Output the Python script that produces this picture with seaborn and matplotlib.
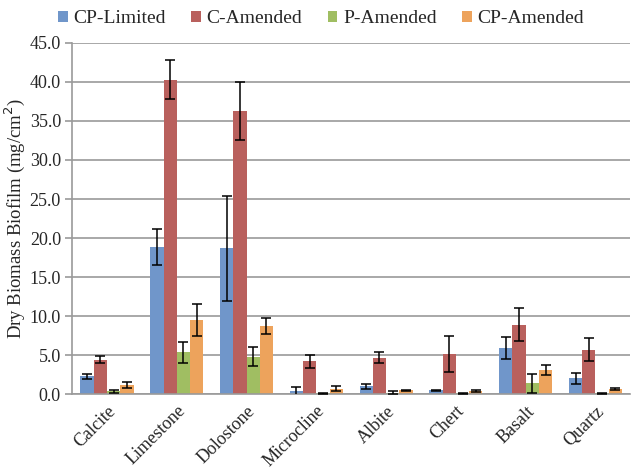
import numpy as np
import matplotlib.pyplot as plt
import pandas as pd
import seaborn as sns

minerals = ['Calcite', 'Limestone', 'Dolostone', 'Microcline', 'Albite', 'Chert', 'Basalt', 'Quartz']
treatments = ['CP-Limited', 'C-Amended', 'P-Amended', 'CP-Amended']

cp_limited = [2.3, 18.9, 18.7, 0.35, 1.0, 0.5, 5.9, 2.05]
c_amended = [4.4, 40.3, 36.3, 4.2, 4.7, 5.1, 8.9, 5.7]
p_amended = [0.4, 5.4, 4.8, 0.1, 0.2, 0.1, 1.4, 0.1]
cp_amended = [1.2, 9.5, 8.7, 0.7, 0.5, 0.4, 3.1, 0.65]

cp_limited_err = [0.35, 2.3, 6.75, 0.6, 0.3, 0.1, 1.45, 0.7]
c_amended_err = [0.45, 2.45, 3.7, 0.8, 0.75, 2.3, 2.1, 1.5]
p_amended_err = [0.2, 1.35, 1.2, 0.05, 0.15, 0.05, 1.2, 0.05]
cp_amended_err = [0.37, 2.05, 1.0, 0.3, 0.1, 0.15, 0.6, 0.1]

colors = ['#7096CA', '#B9605D', '#A0BE62', '#EDA35C']

values = [cp_limited, c_amended, p_amended, cp_amended]
errors = [cp_limited_err, c_amended_err, p_amended_err, cp_amended_err]

df = pd.DataFrame({
    'mineral': np.tile(minerals, 4),
    'treatment': np.repeat(treatments, len(minerals)),
    'biomass': np.concatenate(values),
    'err': np.concatenate(errors),
})

sns.set_style('white')
plt.rcParams['font.family'] = ['Liberation Serif', 'DejaVu Serif']

fig = plt.figure(figsize=(6.38, 4.71), dpi=100)
ax = fig.add_axes([0.113, 0.163, 0.875, 0.746])

sns.barplot(data=df, x='mineral', y='biomass', hue='treatment', order=minerals,
            hue_order=treatments, palette=colors, width=0.76, saturation=1,
            errorbar=None, linewidth=0, ax=ax)

# error bars from the bar positions
for container, t in zip(ax.containers, treatments):
    sub = df[df['treatment'] == t].set_index('mineral').loc[minerals]
    xs = [b.get_x() + b.get_width() / 2 for b in container]
    ax.errorbar(xs, sub['biomass'], yerr=sub['err'], fmt='none', ecolor='black',
                elinewidth=1.1, capsize=3.5, capthick=1.1, zorder=5)

ax.set_ylim(0, 45)
ax.set_yticks(np.arange(0, 46, 5))
ax.set_yticklabels([f'{v:.1f}' for v in np.arange(0, 46, 5)], fontsize=13)
ax.yaxis.grid(True, color='#9a9a9a', linewidth=1.2)
ax.set_axisbelow(True)
ax.set_xlim(-0.5, len(minerals) - 0.5)

ax.set_xticks(range(len(minerals)))
ax.set_xticklabels(minerals, rotation=45, ha='right', rotation_mode='anchor', fontsize=13)
ax.set_xticks(np.arange(-0.5, len(minerals)), minor=True)
ax.tick_params(axis='x', which='major', length=0, pad=6)
ax.tick_params(axis='x', which='minor', length=5, color='#9a9a9a', width=1.2, direction='out')
ax.tick_params(axis='y', length=5, color='#9a9a9a', width=1.2, left=True, direction='out', pad=3)

for s in ['top', 'right']:
    ax.spines[s].set_visible(False)
for s in ['left', 'bottom']:
    ax.spines[s].set_color('#9a9a9a')
    ax.spines[s].set_linewidth(1.2)

ax.set_xlabel('')
ax.set_ylabel('Dry Biomass Biofilm (mg/cm$^2$)', fontsize=13.5, labelpad=2)

ax.legend(loc='lower center', bbox_to_anchor=(0.446, 1.0), ncol=4, frameon=False,
          fontsize=14, handlelength=0.5, handleheight=0.5, handletextpad=0.3,
          columnspacing=1.3, borderaxespad=0.4)

fig.savefig('out.png', dpi=100)
